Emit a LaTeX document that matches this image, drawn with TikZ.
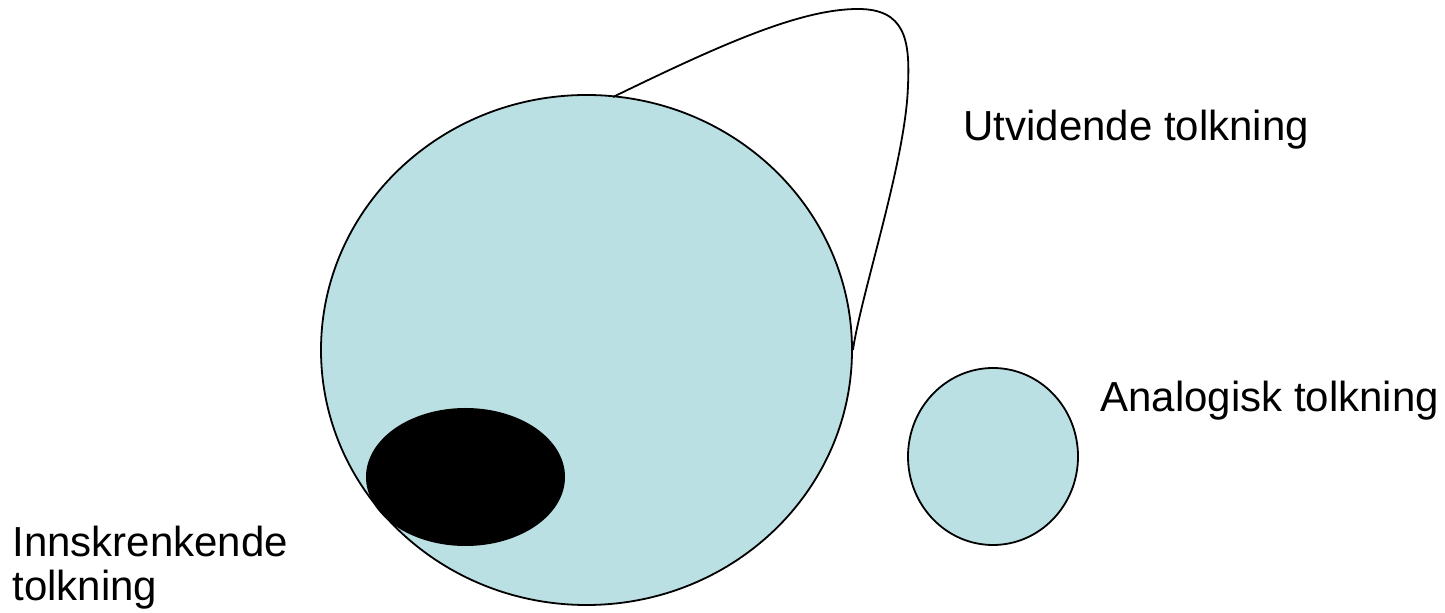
\documentclass[tikz,border=0pt]{standalone}
\usepackage{fontspec}
\setmainfont{Liberation Sans}
\usetikzlibrary{shapes.geometric}
\definecolor{setblue}{RGB}{187,224,227}
\begin{document}
\begin{tikzpicture}[x=0.5pt,y=-0.5pt,
  setshape/.style={ellipse,draw=black,line width=0.9pt,fill=setblue,inner sep=0pt},
  lbl/.style={anchor=base west,inner sep=0pt,font=\fontsize{21pt}{23pt}\selectfont,align=left},
  loopline/.style={draw=black,line width=0.9pt}]
\useasboundingbox (0,0) rectangle (1445,613);
\node[setshape,minimum width=531*0.5pt,minimum height=510*0.5pt] (big) at (586.5,350) {};
\node[ellipse,fill=black,inner sep=0pt,minimum width=199*0.5pt,minimum height=138*0.5pt] (inner) at (465.5,477) {};
\node[setshape,minimum width=170*0.5pt,minimum height=177*0.5pt] (small) at (993,456.5) {};
\coordinate (ls) at (613,97);
\path[loopline] (ls) .. controls (720,45) and (800,9) .. (858,9)
  .. controls (905,9) and (910,40) .. (908,85)
  .. controls (906,160) and (862,290) .. (big.east);
\node[lbl] (t1) at (963,141) {Utvidende tolkning};
\node[lbl] (t2) at (1100,412) {Analogisk tolkning};
\node[lbl] (t3) at (12,557) {Innskrenkende};
\node[lbl] (t4) at (12,601) {tolkning};
\end{tikzpicture}
\end{document}
